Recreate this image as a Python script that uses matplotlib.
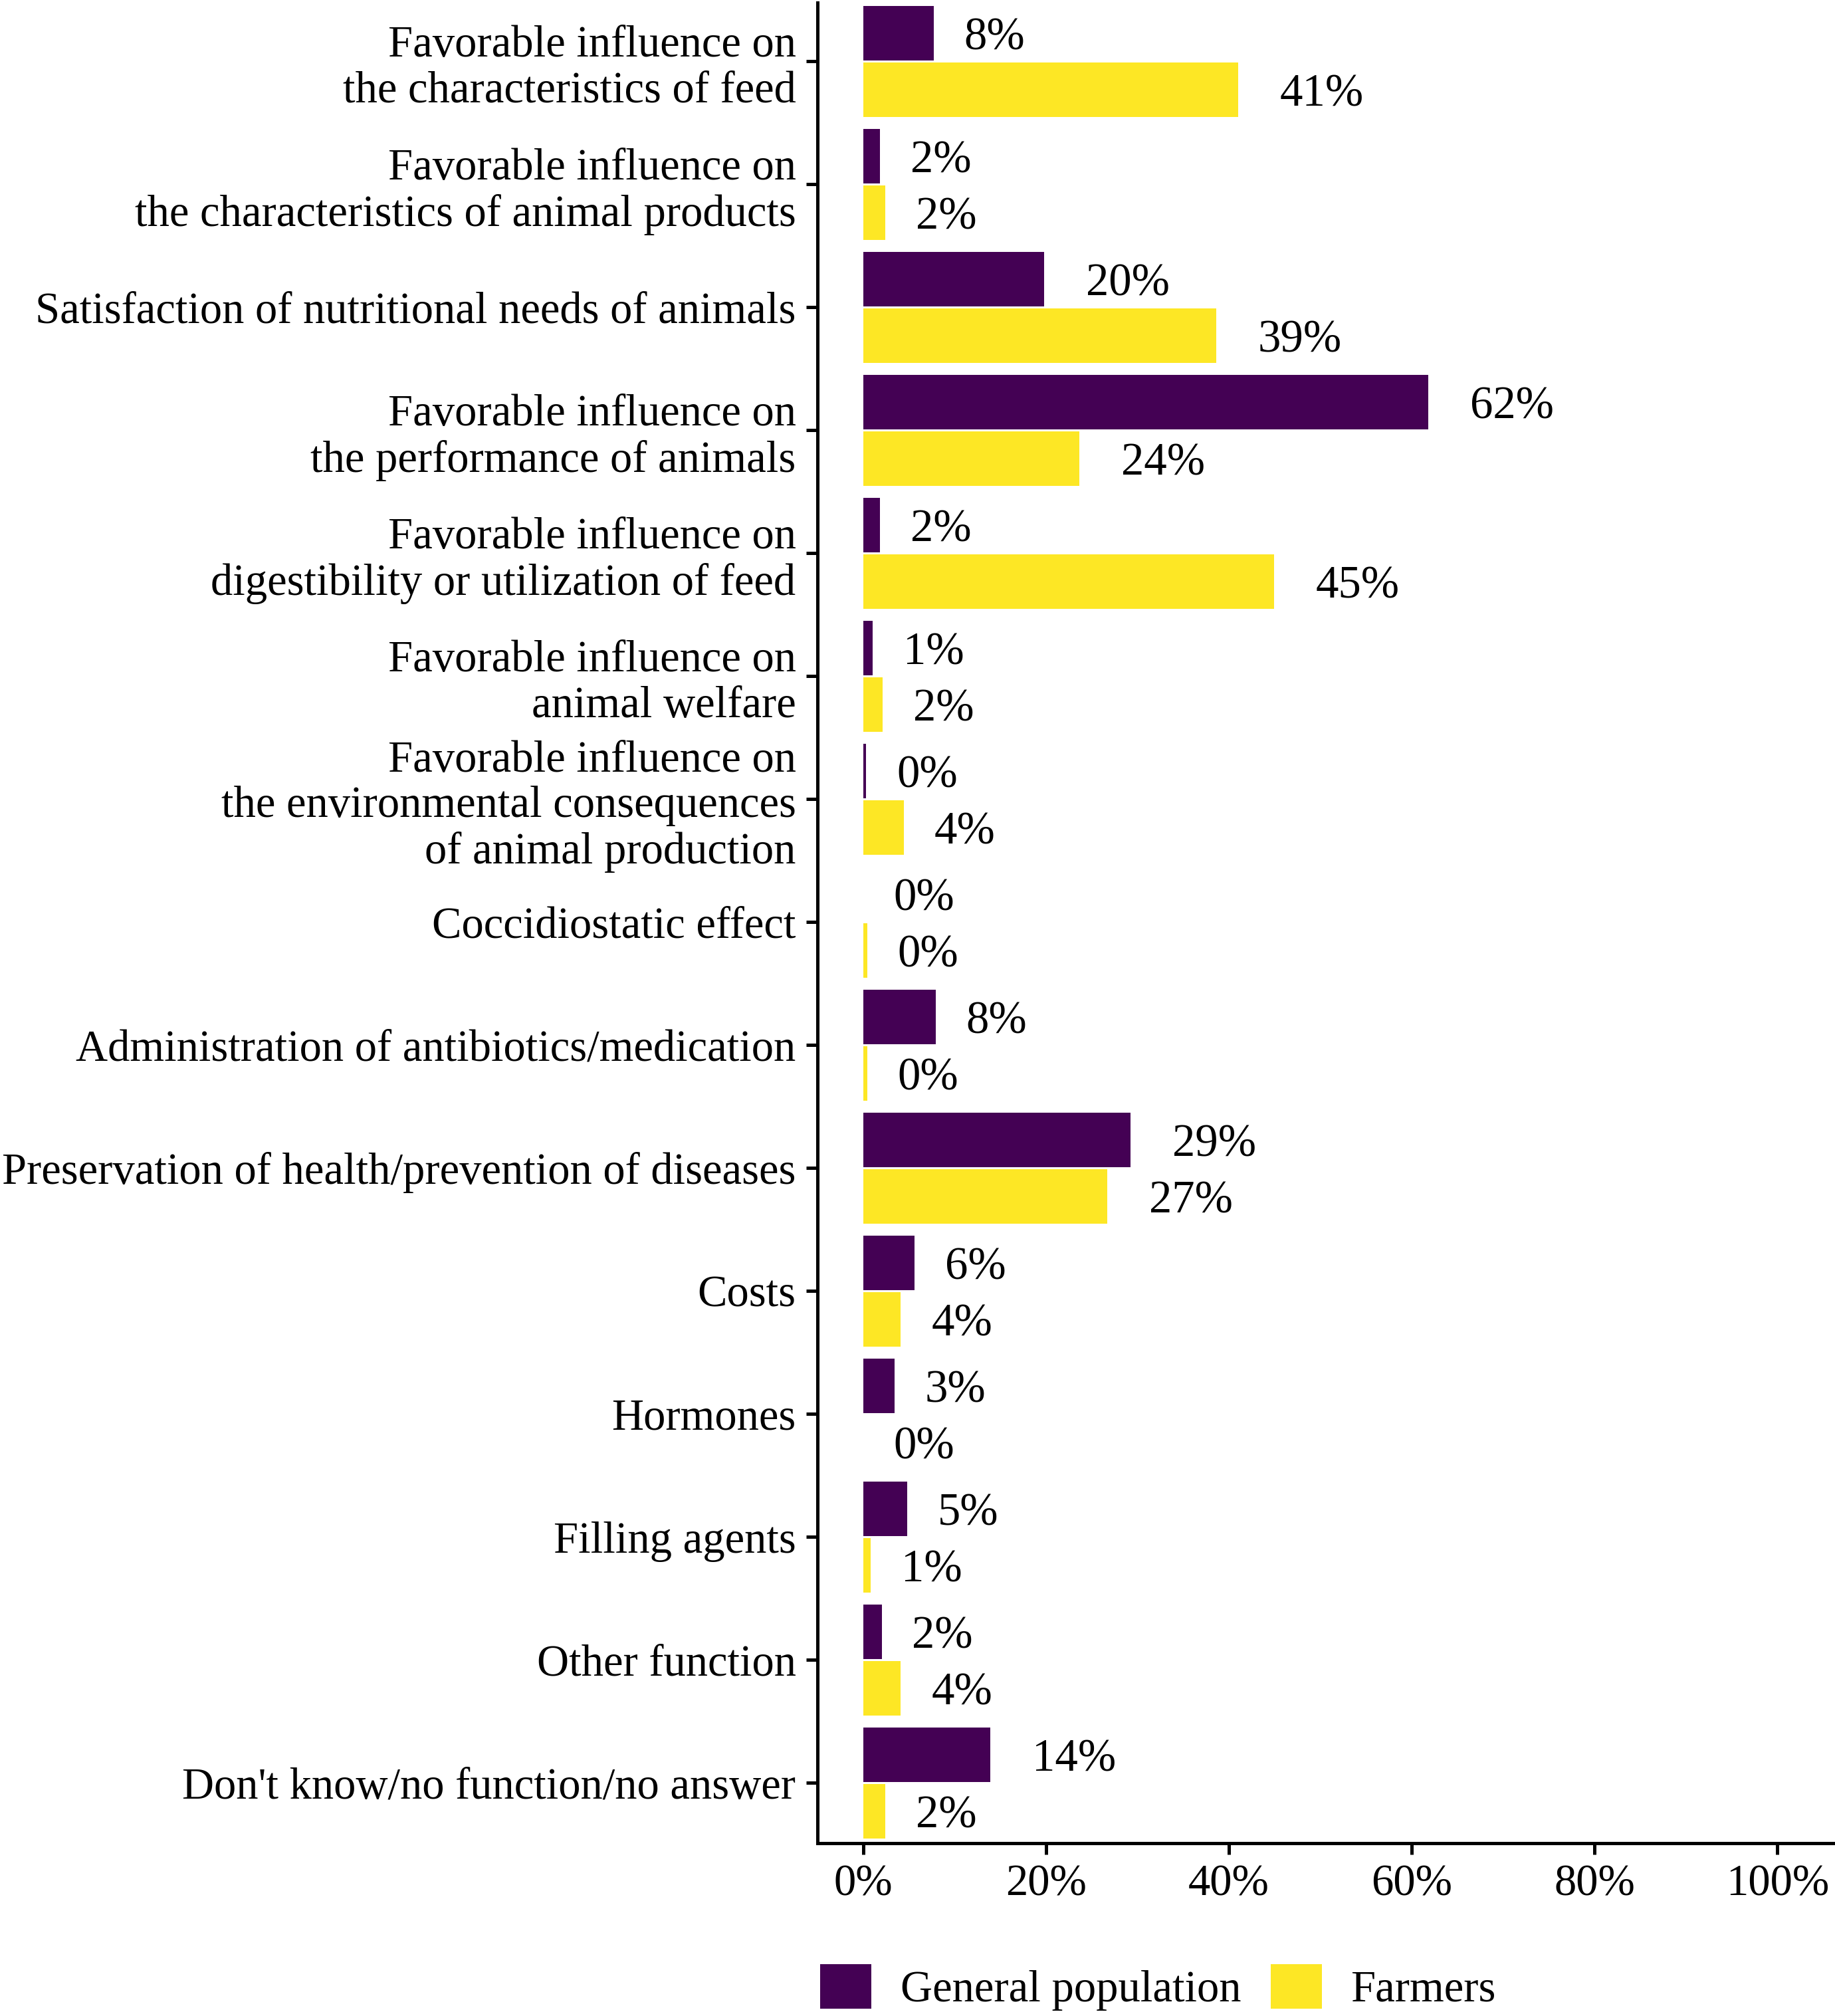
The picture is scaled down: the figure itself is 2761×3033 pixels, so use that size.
import numpy as np
import matplotlib
matplotlib.use("Agg")
import matplotlib.pyplot as plt
from matplotlib.patches import Patch

plt.rcParams['font.family'] = ['Liberation Serif', 'DejaVu Serif']

categories = [
    "Favorable influence on\nthe characteristics of feed",
    "Favorable influence on\nthe characteristics of animal products",
    "Satisfaction of nutritional needs of animals",
    "Favorable influence on\nthe performance of animals",
    "Favorable influence on\ndigestibility or utilization of feed",
    "Favorable influence on\nanimal welfare",
    "Favorable influence on\nthe environmental consequences\nof animal production",
    "Coccidiostatic effect",
    "Administration of antibiotics/medication",
    "Preservation of health/prevention of diseases",
    "Costs",
    "Hormones",
    "Filling agents",
    "Other function",
    "Don't know/no function/no answer",
]
general_population = [7.7, 1.8, 19.8, 61.8, 1.8, 1.0, 0.3, 0.0, 7.9, 29.2, 5.6, 3.4, 4.8, 2.0, 13.9]
farmers = [41.0, 2.4, 38.6, 23.6, 44.9, 2.1, 4.4, 0.4, 0.4, 26.7, 4.1, 0.0, 0.8, 4.1, 2.4]
series_names = ["General population", "Farmers"]
colors = ["#440154", "#FDE725"]

W, H = 2761, 3033
fig = plt.figure(figsize=(W / 300, H / 300), dpi=300)
ax = fig.add_axes([1230 / W, 1 - 2773 / H, 1 - 1230 / W, (2773 - 4) / H])

y = np.arange(len(categories))
bh = 0.44
lab_fs = 16.5
for vals, off, col in [(general_population, -0.23, colors[0]), (farmers, 0.23, colors[1])]:
    ax.barh(y + off, vals, height=bh, color=col, linewidth=0)
    for yi, v in zip(y, vals):
        txt = f"{v:.0f}%"
        # ggplot-style hjust = -0.5: shift by half the label width
        w = lab_fs * (0.5 * (len(txt) - 1) + 0.833)
        ax.annotate(txt, (v, yi + off), xytext=(0.5 * w, 0), textcoords="offset points",
                    ha="left", va="center_baseline", fontsize=lab_fs)

ax.set_xlim(-5.02, 106.3)
ax.set_ylim(14.49, -0.478)
ax.set_xticks([0, 20, 40, 60, 80, 100])
ax.set_xticklabels([f"{t}%" for t in [0, 20, 40, 60, 80, 100]])
ax.set_yticks(y)
ax.set_yticklabels(categories, linespacing=1.16)

for s in ["top", "right"]:
    ax.spines[s].set_visible(False)
for s in ["left", "bottom"]:
    ax.spines[s].set_linewidth(1.2)
ax.tick_params(axis="both", length=4, width=1.2, labelsize=16, colors="black")
ax.tick_params(axis="y", pad=3.8)
ax.tick_params(axis="x", pad=3.5)

handles = [Patch(facecolor=c, edgecolor="none") for c in colors]
fig.legend(handles, series_names, loc="center left", bbox_to_anchor=(1234 / W, 1 - 2990 / H),
           ncol=2, frameon=False, fontsize=16, handlelength=1.16, handleheight=1.16,
           handletextpad=0.65, columnspacing=0.67, borderpad=0, borderaxespad=0)

fig.savefig("out.png", dpi=300)
